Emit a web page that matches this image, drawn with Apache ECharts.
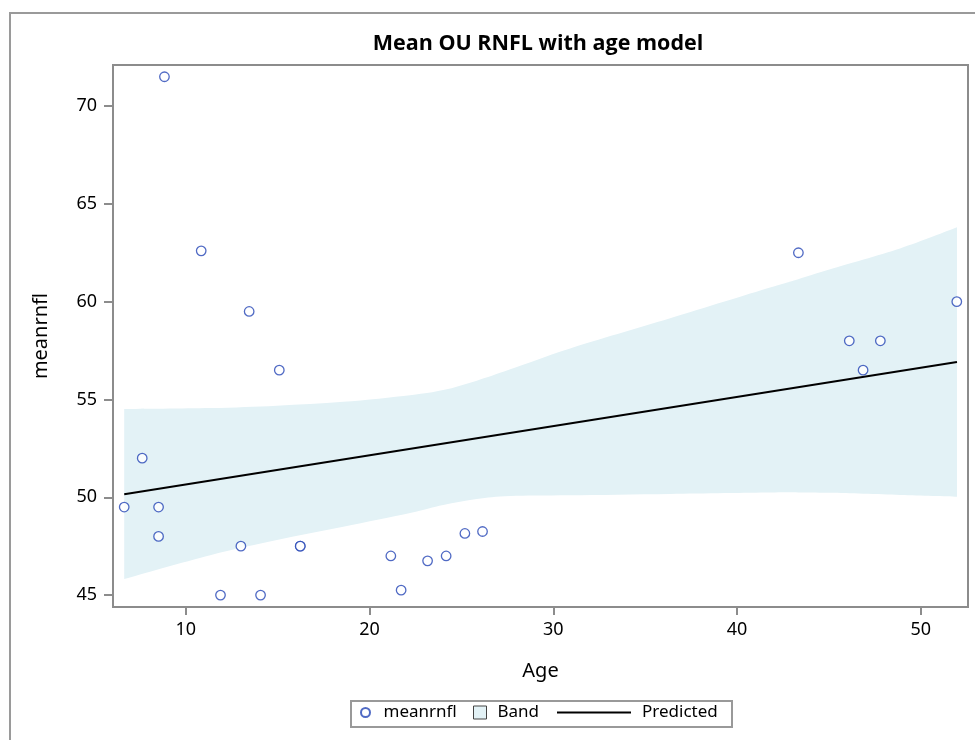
<!DOCTYPE html>
<html>
<head>
<meta charset="utf-8">
<script src="https://cdn.jsdelivr.net/npm/echarts@6/dist/echarts.min.js"></script>
<style>html,body{margin:0;padding:0;background:#fff}#c{width:975px;height:740px}</style>
</head>
<body>
<div id="c"></div>
<script>
// Data
const ages = [6.65, 7.63, 8.52, 8.52, 8.84, 10.84, 11.89, 13.0, 13.45, 14.07, 15.09, 16.23, 16.23, 21.16, 21.72, 23.16, 24.17, 25.19, 26.15, 43.34, 46.11, 46.86, 47.8, 51.96];
const meanrnfl = [49.5, 52.0, 49.5, 48.0, 71.5, 62.6, 45.0, 47.5, 59.5, 45.0, 56.5, 47.5, 47.5, 47.0, 45.25, 46.75, 47.0, 48.15, 48.25, 62.5, 58.0, 56.5, 58.0, 60.0];
const predX = [6.65, 51.97];
const predY = [50.16, 56.91];
const bandX = [6.65, 11.33, 14.96, 18.57, 22.21, 24.01, 25.84, 27.66, 30.92, 36.36, 41.8, 43.33, 45.07, 48.87, 51.97];
const bandLower = [45.82, 47.04, 47.81, 48.49, 49.19, 49.6, 49.91, 50.06, 50.1, 50.17, 50.24, 50.25, 50.23, 50.12, 50.03];
const bandUpper = [54.51, 54.56, 54.68, 54.88, 55.22, 55.48, 55.96, 56.54, 57.61, 59.15, 60.72, 61.15, 61.66, 62.72, 63.8];
const xTicks = [10, 20, 30, 40, 50];
const yTicks = [45, 50, 55, 60, 65, 70];

const FONT = 'Noto Sans';
const gray = '#8c8c8c';
const bandColor = '#e3f2f6';
const markerColor = '#2445b5';

const bandRows = bandX.map((x, i) => [x, bandLower[i], bandUpper[i]]);

// Catmull-Rom -> cubic bezier path segments through pixel points
function curveSegs(pts) {
  let d = '';
  for (let i = 0; i < pts.length - 1; i++) {
    const p0 = pts[i - 1] || pts[i], p1 = pts[i], p2 = pts[i + 1], p3 = pts[i + 2] || pts[i + 1];
    const c1 = [p1[0] + (p2[0] - p0[0]) / 6, p1[1] + (p2[1] - p0[1]) / 6];
    const c2 = [p2[0] - (p3[0] - p1[0]) / 6, p2[1] - (p3[1] - p1[1]) / 6];
    d += ' C' + c1[0] + ',' + c1[1] + ' ' + c2[0] + ',' + c2[1] + ' ' + p2[0] + ',' + p2[1];
  }
  return d;
}

const chart = echarts.init(document.getElementById('c'), null, {renderer: 'canvas'});
const option = {
  animation: false,
  backgroundColor: '#fff',
  title: {
    text: 'Mean OU RNFL with age model',
    left: 533, top: 28, textAlign: 'center',
    textStyle: {fontFamily: 'Open Sans', fontWeight: 'bold', fontSize: 21.5, color: '#000'}
  },
  grid: {left: 113, top: 65, right: 7, bottom: 133, show: true, borderColor: gray, borderWidth: 2, backgroundColor: 'transparent'},
  xAxis: {
    type: 'value', min: 6.04, max: 52.57,
    name: 'Age', nameLocation: 'middle', nameGap: 54,
    nameTextStyle: {fontFamily: FONT, fontSize: 20, color: '#000'},
    axisLine: {show: false},
    axisTick: {show: true, length: 8, lineStyle: {color: gray, width: 2}, customValues: xTicks},
    axisLabel: {fontFamily: FONT, fontSize: 18, color: '#000', margin: 14, customValues: xTicks},
    splitLine: {show: false}
  },
  yAxis: {
    type: 'value', min: 44.39, max: 72.1,
    name: 'meanrnfl', nameLocation: 'middle', nameGap: 62, nameRotate: 90,
    nameTextStyle: {fontFamily: FONT, fontSize: 20, color: '#000'},
    axisLine: {show: false},
    axisTick: {show: true, length: 9, lineStyle: {color: gray, width: 2}, customValues: yTicks},
    axisLabel: {fontFamily: FONT, fontSize: 18, color: '#000', margin: 16, customValues: yTicks},
    splitLine: {show: false}
  },
  legend: [
    {data: ['meanrnfl'], left: 360, top: 704, itemWidth: 10, itemHeight: 9, padding: 0, itemGap: 0,
     textStyle: {fontFamily: FONT, fontSize: 17, color: '#000', padding: [0,0,0,8]}},
    {data: [{name: 'Band', icon: 'rect', itemStyle: {color: bandColor, borderColor: '#444', borderWidth: 1}}],
     left: 473, top: 704, itemWidth: 13, itemHeight: 13, padding: 0,
     textStyle: {fontFamily: FONT, fontSize: 17, color: '#000', padding: [0,0,0,6]}},
    {data: [{name: 'Predicted', icon: 'rect', itemStyle: {color: '#000'}}], left: 557, top: 704, itemWidth: 74, itemHeight: 2, padding: 0,
     textStyle: {fontFamily: FONT, fontSize: 17, color: '#000', padding: [0,0,0,6]}}
  ],
  graphic: [
    {type: 'rect', shape: {x: 10, y: 13, width: 1000, height: 800}, style: {fill: 'none', stroke: '#9a9a9a', lineWidth: 2}, silent: true, z: -1},
    {type: 'rect', shape: {x: 351, y: 701, width: 381, height: 26}, style: {fill: 'none', stroke: '#999', lineWidth: 2}, silent: true}
  ],
  series: [
    {name: 'Band', type: 'custom', data: bandRows, silent: true, z: 1, clip: true,
     itemStyle: {color: bandColor},
     encode: {x: 0, y: [1, 2]},
     renderItem: function (params, api) {
       if (params.dataIndex !== 0) return null;
       const top = bandRows.map(r => api.coord([r[0], r[2]]));
       const bot = bandRows.map(r => api.coord([r[0], r[1]])).reverse();
       const d = 'M' + top[0][0] + ',' + top[0][1] + curveSegs(top) +
                 ' L' + bot[0][0] + ',' + bot[0][1] + curveSegs(bot) + ' Z';
       return {type: 'path', shape: {pathData: d}, style: {fill: bandColor}};
     }},
    {name: 'Predicted', type: 'line', data: predX.map((x, i) => [x, predY[i]]), symbol: 'none',
     lineStyle: {color: '#000', width: 2}, itemStyle: {color: '#000'}, z: 2},
    {name: 'meanrnfl', type: 'scatter', data: ages.map((x, i) => [x, meanrnfl[i]]), symbol: 'circle', symbolSize: 9.5,
     itemStyle: {color: '#fff', borderColor: markerColor, borderWidth: 1.3}, z: 3}
  ]
};
chart.setOption(option);
</script>
</body>
</html>
